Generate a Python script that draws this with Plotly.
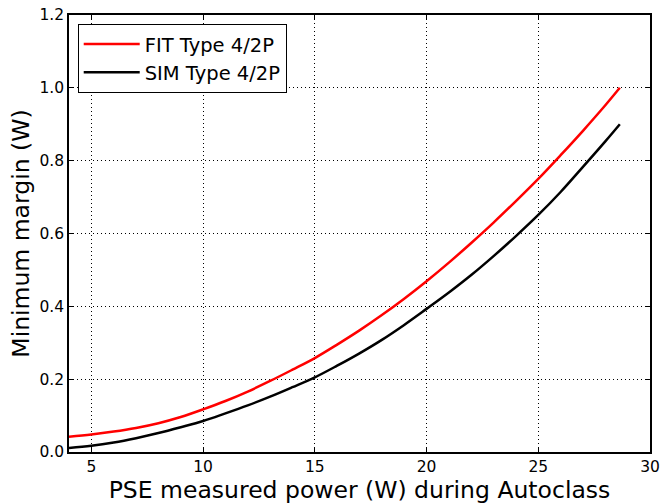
import plotly.graph_objects as go

x_vals = [4, 5, 6, 7, 8, 9, 10, 11, 12, 13, 14, 15, 16, 17, 18, 19, 20,
          21, 22, 23, 24, 25, 26, 27, 28, 28.65]
fit_vals = [0.042, 0.048, 0.056, 0.066, 0.079, 0.096, 0.117, 0.140, 0.166, 0.195,
            0.226, 0.258, 0.295, 0.334, 0.376, 0.421, 0.469, 0.520, 0.574, 0.630,
            0.689, 0.750, 0.815, 0.882, 0.952, 1.000]
sim_vals = [0.011, 0.017, 0.026, 0.038, 0.052, 0.068, 0.085, 0.106, 0.128, 0.152,
            0.178, 0.205, 0.237, 0.271, 0.308, 0.349, 0.393, 0.438, 0.486, 0.538,
            0.593, 0.651, 0.714, 0.783, 0.853, 0.900]
x_ticks = [5, 10, 15, 20, 25, 30]
y_ticks = [0.0, 0.2, 0.4, 0.6, 0.8, 1.0, 1.2]

fig = go.Figure()
fig.add_trace(go.Scatter(x=x_vals, y=fit_vals, mode="lines", name="FIT Type 4/2P",
                         line=dict(color="#ff0000", width=2.5, shape="spline")))
fig.add_trace(go.Scatter(x=x_vals, y=sim_vals, mode="lines", name="SIM Type 4/2P",
                         line=dict(color="#000000", width=2.5, shape="spline")))

axis_common = dict(showline=True, linecolor="black", linewidth=1.5, mirror="ticks",
                   ticks="inside", ticklen=5, tickcolor="black", automargin=False,
                   showgrid=True, gridcolor="black", griddash="1px,3px", gridwidth=1,
                   zeroline=False, tickfont=dict(family="DejaVu Sans", size=15.5, color="black"))

fig.update_xaxes(range=[4, 30], tickvals=x_ticks, ticktext=[str(v) for v in x_ticks],
                 title=dict(text="PSE measured power (W) during Autoclass",
                            font=dict(family="DejaVu Sans", size=23.5, color="black"), standoff=6),
                 **axis_common)
fig.update_yaxes(range=[0, 1.2], tickvals=y_ticks, ticktext=[f"{v:.1f}" for v in y_ticks],
                 title=dict(text="Minimum margin (W)",
                            font=dict(family="DejaVu Sans", size=23.5, color="black"), standoff=3),
                 **axis_common)

fig.update_layout(
    width=663, height=504,
    margin=dict(l=69, r=13, t=15, b=52),
    paper_bgcolor="white", plot_bgcolor="white",
    font=dict(family="DejaVu Sans", color="black"),
    legend=dict(x=0.015, y=0.98, xanchor="left", yanchor="top",
                bordercolor="black", borderwidth=1, bgcolor="white",
                itemwidth=56,
                font=dict(family="DejaVu Sans", size=19.5, color="black")),
)

fig.write_html("out.html", config={"displayModeBar": False},
               post_script="document.body.style.margin='0px';")
